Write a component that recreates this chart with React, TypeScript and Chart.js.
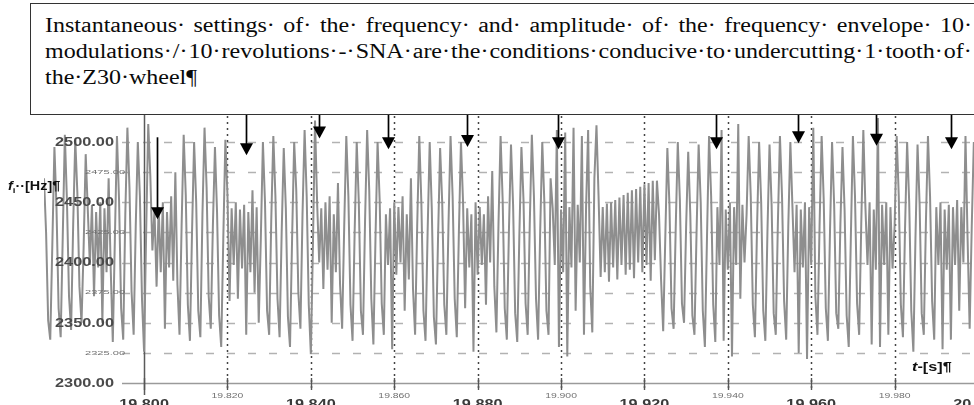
import { useEffect, useRef } from "react";
import { Chart, registerables } from "chart.js";

Chart.register(...registerables);

// ---- data ----
const startTime = 19.776; // s, first sample
const sampleStep = 0.0005; // s between samples

// instantaneous frequency f_i [Hz]
const frequencyHz = [
  2470, 2425, 2352, 2336, 2415, 2496, 2445, 2362, 2338, 2422, 2506, 2452, 2372, 2344, 2432, 2502, 2458, 2380, 2350, 2412, 2490,
  2444, 2398, 2448, 2372, 2442, 2396, 2450, 2350, 2445, 2392, 2470,
  2395, 2334, 2420, 2505, 2452, 2362, 2336, 2440, 2512, 2462, 2376, 2340, 2430, 2500, 2455, 2370, 2326, 2425, 2515, 2472,
  2410, 2444, 2380, 2446, 2392, 2450, 2345, 2442, 2396, 2455, 2385, 2475,
  2382, 2340, 2430, 2506, 2456, 2365, 2335, 2425, 2500, 2450, 2360, 2338, 2440, 2512, 2462, 2372, 2345, 2430, 2496, 2442, 2356, 2330, 2420, 2502, 2456, 2368,
  2445, 2398, 2450, 2370, 2444, 2395, 2448, 2340, 2442, 2392, 2460, 2375, 2446, 2350,
  2420, 2500, 2450, 2360, 2340, 2435, 2505, 2455, 2370, 2338, 2425, 2495, 2445, 2355, 2330, 2420, 2500, 2460, 2375, 2345, 2440, 2510, 2455, 2365, 2324, 2415, 2518,
  2450, 2400, 2445, 2378, 2450, 2394, 2455, 2350, 2440, 2392, 2466, 2382,
  2345, 2430, 2505, 2455, 2365, 2335, 2425, 2500, 2450, 2360, 2340, 2435, 2510, 2460, 2370, 2332, 2420, 2500, 2452, 2366, 2340,
  2440, 2398, 2445, 2328, 2450, 2390, 2446, 2400, 2455, 2360, 2440, 2386, 2470,
  2378, 2340, 2430, 2505, 2450, 2360, 2335, 2425, 2500, 2445, 2355, 2332, 2420, 2495, 2450, 2365, 2340, 2430, 2505, 2455, 2370, 2338, 2425, 2500, 2450, 2362,
  2445, 2396, 2440, 2326, 2450, 2390, 2446, 2398, 2440, 2365, 2455, 2400, 2476,
  2380, 2342, 2432, 2505, 2452, 2362, 2336, 2426, 2498, 2448, 2358, 2334, 2422, 2496, 2452, 2366, 2340, 2432, 2506, 2455, 2370, 2336, 2426, 2500, 2450, 2360, 2340, 2470,
  2445, 2398, 2510, 2330, 2444, 2392, 2508, 2322, 2446, 2396, 2512, 2360, 2448, 2400, 2505,
  2340, 2445, 2510, 2380, 2342, 2470, 2514, 2455,
  2388, 2446, 2392, 2449, 2384, 2450, 2396, 2452, 2386, 2454, 2398, 2456, 2390, 2458, 2394, 2460, 2387, 2461, 2400, 2463, 2392, 2465, 2398, 2466, 2385, 2468, 2402, 2468, 2440,
  2385, 2343, 2420, 2495, 2448, 2362, 2345, 2428, 2500, 2452, 2366, 2350, 2430, 2492, 2440, 2356, 2340, 2425, 2498, 2450, 2360, 2330, 2420, 2505, 2455, 2365, 2334,
  2446, 2398, 2510, 2335, 2444, 2394, 2450, 2322, 2446, 2398, 2515, 2370, 2448, 2400,
  2440, 2505, 2455, 2365, 2338, 2428, 2500, 2450, 2360, 2335, 2425, 2498, 2448, 2358, 2340, 2432, 2505, 2455, 2368, 2336, 2430, 2500,
  2446, 2392, 2448, 2325, 2444, 2396, 2450, 2320, 2446, 2398, 2512, 2372,
  2340, 2430, 2505, 2452, 2362, 2335, 2425, 2500, 2448, 2358, 2345, 2432, 2496, 2444, 2356, 2330, 2420, 2505, 2455, 2366, 2340, 2432, 2510,
  2446, 2398, 2450, 2332, 2444, 2394, 2520, 2330, 2448, 2398, 2450, 2340, 2446, 2395,
  2430, 2505, 2455, 2365, 2338, 2428, 2500, 2450, 2360, 2326, 2420, 2498, 2448, 2358, 2340, 2432, 2505, 2455, 2368, 2336,
  2446, 2398, 2450, 2328, 2444, 2394, 2448, 2336, 2446, 2398, 2452, 2360, 2446, 2400, 2505,
  2420, 2345, 2430, 2500, 2450, 2360,
];

const xTickValues = [19.8, 19.82, 19.84, 19.86, 19.88, 19.9, 19.92, 19.94, 19.96, 19.98, 20.0];
const xTickLabels = ["19.800", "19.820", "19.840", "19.860", "19.880", "19.900", "19.920", "19.940", "19.960", "19.980", "20.000"];
const xTickMajor = [true, false, true, false, true, false, true, false, true, false, true];

const yTickValues = [2300, 2325, 2350, 2375, 2400, 2425, 2450, 2475, 2500];
const yTickLabels = ["2300.00", "2325.00", "2350.00", "2375.00", "2400.00", "2425.00", "2450.00", "2475.00", "2500.00"];
const yTickMajor = [true, false, true, false, true, false, true, false, true];

// arrows marking undercutting instants
const arrowTimes = [19.8031, 19.8244, 19.8419, 19.8585, 19.8774, 19.8993, 19.9371, 19.9568, 19.9755, 19.9935];
const arrowTipHz = [2436, 2489, 2503, 2494, 2496, 2494, 2494, 2499, 2497, 2494];
const arrowFromHz: (number | null)[] = [2504, null, null, null, null, null, null, null, null, null];

const titleLines = [
  "Instantaneous· settings· of· the· frequency· and· amplitude· of· the· frequency· envelope· 10·",
  "modulations· /· 10· revolutions· -· SNA· are· the· conditions· conducive· to· undercutting· 1· tooth· of·",
  "the·Z30·wheel¶",
];

// ---- drawing helpers ----
const GRID_LEFT = 122;

function stretchText(
  ctx: CanvasRenderingContext2D,
  text: string,
  x: number,
  y: number,
  font: string,
  sx: number,
  align: CanvasTextAlign,
  baseline: CanvasTextBaseline,
  color: string
) {
  ctx.save();
  ctx.font = font;
  ctx.fillStyle = color;
  ctx.textAlign = align;
  ctx.textBaseline = baseline;
  ctx.translate(x, y);
  ctx.scale(sx, 1);
  ctx.fillText(text, 0, 0);
  ctx.restore();
}

const figurePlugin = {
  id: "figureDecor",
  beforeDatasetsDraw(chart: any) {
    const { ctx, chartArea } = chart;
    const xs = chart.scales.x;
    const ys = chart.scales.y;
    ctx.save();
    // horizontal grid
    yTickValues.forEach((v) => {
      const py = Math.round(ys.getPixelForValue(v)) + 0.5;
      ctx.beginPath();
      if (v === 2300) {
        ctx.setLineDash([]);
        ctx.strokeStyle = "#9a9a9a";
        ctx.lineWidth = 1.6;
      } else {
        ctx.setLineDash([8, 13]);
        ctx.strokeStyle = "#b2b2b2";
        ctx.lineWidth = 1.5;
      }
      ctx.moveTo(GRID_LEFT, py);
      ctx.lineTo(chartArea.right + 30, py);
      ctx.stroke();
    });
    // vertical lines + ticks
    xTickValues.forEach((v, i) => {
      const px = Math.round(xs.getPixelForValue(v)) + 0.5;
      ctx.beginPath();
      if (i === 0) {
        ctx.setLineDash([]);
        ctx.strokeStyle = "#5a5a5a";
        ctx.lineWidth = 1.5;
        ctx.moveTo(px, chartArea.top);
        ctx.lineTo(px, chartArea.bottom + 12);
      } else {
        ctx.setLineDash([2, 4]);
        ctx.strokeStyle = "#444";
        ctx.lineWidth = 1.5;
        ctx.moveTo(px, chartArea.top + 4);
        ctx.lineTo(px, chartArea.bottom + 9);
      }
      ctx.stroke();
      ctx.beginPath();
      ctx.setLineDash([]);
      ctx.strokeStyle = "#555";
      ctx.lineWidth = 1.4;
      ctx.moveTo(px, chartArea.bottom - 5);
      ctx.lineTo(px, chartArea.bottom + 7);
      ctx.stroke();
    });
    ctx.restore();
  },
  afterDatasetsDraw(chart: any) {
    const { ctx, chartArea } = chart;
    const xs = chart.scales.x;
    const ys = chart.scales.y;
    // y labels
    yTickValues.forEach((v, i) => {
      const py = ys.getPixelForValue(v);
      if (yTickMajor[i]) {
        stretchText(ctx, yTickLabels[i], 55, py + 0.5, "bold 12px 'Liberation Sans', Arial", 1.36, "left", "middle", "#4a4a4a");
      } else {
        stretchText(ctx, yTickLabels[i], 85, py, "6px 'Liberation Sans', Arial", 1.85, "left", "middle", "#707070");
      }
    });
    // x labels
    xTickValues.forEach((v, i) => {
      const px = xs.getPixelForValue(v);
      if (xTickMajor[i]) {
        stretchText(ctx, xTickLabels[i], px, chartArea.bottom + 25, "bold 13px 'Liberation Sans', Arial", 1.25, "center", "alphabetic", "#3a3a3a");
      } else {
        stretchText(ctx, xTickLabels[i], px, chartArea.bottom + 13, "6.5px 'Liberation Sans', Arial", 1.6, "center", "middle", "#707070");
      }
    });
    // arrows
    ctx.save();
    arrowTimes.forEach((t, i) => {
      const px = Math.round(xs.getPixelForValue(t)) + 0.5;
      const tip = ys.getPixelForValue(arrowTipHz[i]);
      const from = arrowFromHz[i] === null ? chartArea.top : ys.getPixelForValue(arrowFromHz[i] as number);
      ctx.strokeStyle = "#000";
      ctx.fillStyle = "#000";
      ctx.lineWidth = 1.7;
      ctx.beginPath();
      ctx.moveTo(px, from);
      ctx.lineTo(px, tip - 10);
      ctx.stroke();
      ctx.beginPath();
      ctx.moveTo(px - 6.5, tip - 12);
      ctx.lineTo(px + 6.5, tip - 12);
      ctx.lineTo(px, tip);
      ctx.closePath();
      ctx.fill();
    });
    ctx.restore();
  },
};

export default function App() {
  const canvasRef = useRef<HTMLCanvasElement | null>(null);

  useEffect(() => {
    if (!canvasRef.current) return;
    const points = frequencyHz.map((v, i) => ({ x: startTime + i * sampleStep, y: v }));
    const chart = new Chart(canvasRef.current, {
      type: "line",
      data: {
        datasets: [
          {
            data: points,
            borderColor: "#8e8e8e",
            borderWidth: 2,
            pointRadius: 0,
            tension: 0,
            fill: false,
          },
        ],
      },
      options: {
        animation: false,
        responsive: false,
        events: [],
        layout: { padding: { left: 44, right: 22, top: 112, bottom: 57 } },
        scales: {
          x: { type: "linear", min: startTime, max: 20.0, display: false },
          y: { type: "linear", min: 2300, max: 2525, display: false },
        },
        plugins: { legend: { display: false }, tooltip: { enabled: false } },
      },
      plugins: [figurePlugin as any],
    });
    return () => chart.destroy();
  }, []);

  return (
    <div style={{ position: "fixed", left: 0, top: 0, width: 974, height: 405, overflow: "hidden", background: "#fff" }}>
      <canvas ref={canvasRef} width={1000} height={440} style={{ position: "absolute", left: 0, top: 0, width: 1000, height: 440 }} />
      <div
        style={{
          position: "absolute",
          left: 30,
          top: 3,
          width: 960,
          height: 112,
          boxSizing: "border-box",
          border: "1.5px solid #333",
          background: "#fff",
        }}
      />
      <div
        style={{
          position: "absolute",
          left: 45,
          top: 11.5,
          width: 772.5,
          transform: "scaleX(1.2)",
          transformOrigin: "0 0",
          fontFamily: "'Liberation Serif', 'Times New Roman', serif",
          fontSize: 20,
          lineHeight: "26px",
          color: "#0a0a0a",
          whiteSpace: "nowrap",
        }}
      >
        {titleLines.map((line, li) =>
          li < 2 ? (
            <div key={li} style={{ display: "flex", justifyContent: "space-between" }}>
              {line.split(" ").map((w, wi) => (
                <span key={wi}>{w}</span>
              ))}
            </div>
          ) : (
            <div key={li}>{line}</div>
          )
        )}
      </div>
      <div
        style={{
          position: "absolute",
          left: 8,
          top: 179,
          font: "bold 12px 'Liberation Sans', Arial, sans-serif",
          lineHeight: "14px",
          transform: "scaleX(1.2)",
          transformOrigin: "0 0",
          whiteSpace: "nowrap",
          color: "#111",
        }}
      >
        <i>f</i>
        <span style={{ fontSize: 8, position: "relative", top: 3 }}>i</span>··[Hz]¶
      </div>
      <div
        style={{
          position: "absolute",
          left: 912,
          top: 359,
          font: "bold 13px 'Liberation Sans', Arial, sans-serif",
          lineHeight: "15px",
          transform: "scaleX(1.25)",
          transformOrigin: "0 0",
          whiteSpace: "nowrap",
          color: "#111",
        }}
      >
        <i>t</i>-[s]¶
      </div>
    </div>
  );
}
